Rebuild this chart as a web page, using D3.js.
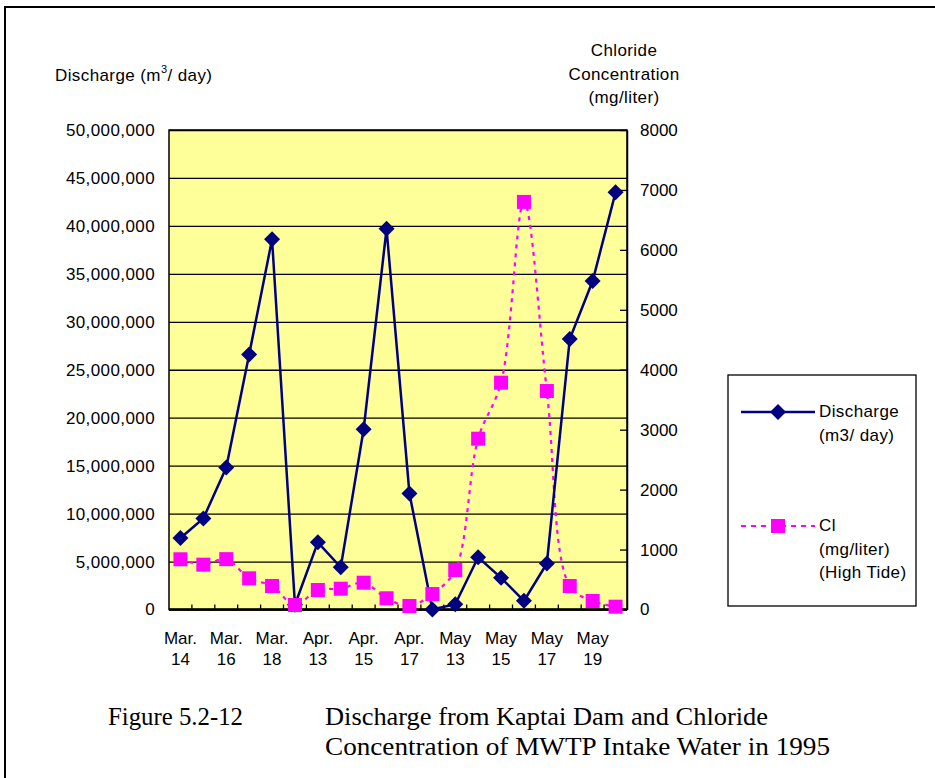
<!DOCTYPE html>
<html>
<head>
<meta charset="utf-8">
<script src="https://cdnjs.cloudflare.com/ajax/libs/d3/7.8.5/d3.min.js"></script>
<style>
  body { margin: 0; background: #fff; }
  svg text { font-family: "Liberation Sans", Arial, sans-serif; }
  .xl { letter-spacing: 0.4px; }
</style>
</head>
<body>
<svg width="935" height="778"></svg>
<script>
// categories (every other one gets a label, like the original sheet)
var dates = ["Mar.|14", "Mar.|15", "Mar.|16", "Mar.|17", "Mar.|18", "Mar.|19",
    "Apr.|13", "Apr.|14", "Apr.|15", "Apr.|16", "Apr.|17", "Apr.|18",
    "May|13", "May|14", "May|15", "May|16", "May|17", "May|18", "May|19", "May|20"];

// discharge in m3/day
var discharge = [7450000, 9500000, 14800000, 26600000, 38600000, 500000,
    7000000, 4400000, 18800000, 39700000, 12100000, 0,
    550000, 5450000, 3300000, 900000, 4800000, 28200000, 34250000, 43500000];

// chloride mg/liter (high tide)
var chloride = [838, 748, 840, 520, 392, 75,
    325, 347, 447, 187, 58, 258,
    659, 2850, 3784, 6800, 3645, 392, 142, 47];

var leftTicks = [0, 5e6, 10e6, 15e6, 20e6, 25e6, 30e6, 35e6, 40e6, 45e6, 50e6];
var rightTicks = [0, 1000, 2000, 3000, 4000, 5000, 6000, 7000, 8000];

var margin = {left: 169, top: 130, right: 308, bottom: 168.5};
var svgWidth = 935, svgHeight = 778;
var width = svgWidth - margin.left - margin.right;
var height = svgHeight - margin.top - margin.bottom;

var svg = d3.select("svg");

// outer frame (only top and left show in the picture)
svg.append("rect")
    .attr("x", 5).attr("y", 7)
    .attr("width", 1000).attr("height", 1000)
    .attr("fill", "none")
    .attr("stroke", "#000")
    .attr("stroke-width", 2);

var g = svg.append("g")
    .attr("transform", "translate(" + margin.left + "," + margin.top + ")");

var x = d3.scaleBand()
    .domain(d3.range(dates.length))
    .range([0, width]);

var yL = d3.scaleLinear().domain([0, 50e6]).range([height, 0]);
var yR = d3.scaleLinear().domain([0, 8000]).range([height, 0]);

g.append("rect")
    .attr("width", width)
    .attr("height", height)
    .attr("fill", "#FFFF99");

// gridlines
g.append("g")
    .call(d3.axisLeft(yL).tickValues(leftTicks).tickSize(-width).tickFormat(""))
    .call(function (s) {
        s.select(".domain").remove();
        s.selectAll("line").attr("stroke", "#000").attr("stroke-width", 1.3);
    });

// left labels
g.append("g")
    .call(d3.axisLeft(yL).tickValues(leftTicks).tickSize(0).tickPadding(14)
        .tickFormat(d3.format(",")))
    .call(function (s) {
        s.select(".domain").remove();
        s.selectAll("text").attr("font-size", 17).attr("fill", "#000")
            .attr("class", "xl")
            .attr("font-family", "Liberation Sans, Arial, sans-serif");
    });

// right axis, ticks inward
g.append("g")
    .attr("transform", "translate(" + width + ",0)")
    .call(d3.axisRight(yR).tickValues(rightTicks).tickSizeInner(-7).tickSizeOuter(0)
        .tickPadding(13).tickFormat(d3.format("d")))
    .call(function (s) {
        s.select(".domain").attr("stroke", "#000").attr("stroke-width", 1.5);
        s.selectAll("line").attr("stroke", "#000").attr("stroke-width", 1.3);
        s.selectAll("text").attr("font-size", 17).attr("fill", "#000")
            .attr("font-family", "Liberation Sans, Arial, sans-serif");
    });

// plot border
g.append("rect")
    .attr("width", width)
    .attr("height", height)
    .attr("fill", "none")
    .attr("stroke", "#000")
    .attr("stroke-width", 1.5);

// bottom axis ticks between categories, inward
var bounds = d3.range(1, dates.length).map(function (i) { return x(i); });
g.append("g").selectAll("line")
    .data(bounds)
    .enter()
    .append("line")
    .attr("x1", function (d) { return d; })
    .attr("x2", function (d) { return d; })
    .attr("y1", height)
    .attr("y2", height - 5)
    .attr("stroke", "#000")
    .attr("stroke-width", 1.3);

g.append("line")
    .attr("x1", 0).attr("x2", width)
    .attr("y1", height).attr("y2", height)
    .attr("stroke", "#000").attr("stroke-width", 2.5);

// x labels
var xl = g.append("g").selectAll("text")
    .data(dates.map(function (d, i) { return {d: d, i: i}; }).filter(function (o) { return o.i % 2 === 0; }))
    .enter()
    .append("text")
    .attr("text-anchor", "middle")
    .attr("font-size", 17)
    .attr("transform", function (o) {
        return "translate(" + (x(o.i) + x.bandwidth() / 2) + "," + (height + 34) + ")";
    });
xl.append("tspan").attr("x", 0).attr("y", 0)
    .text(function (o) { return o.d.split("|")[0]; });
xl.append("tspan").attr("x", 0).attr("y", 21)
    .text(function (o) { return o.d.split("|")[1]; });

var cx = function (d, i) { return x(i) + x.bandwidth() / 2; };

// chloride, smoothed dashed line
var clLine = d3.line()
    .x(cx)
    .y(function (d) { return yR(d); })
    .curve(d3.curveCatmullRom.alpha(0.5));

g.append("path")
    .datum(chloride)
    .attr("fill", "none")
    .attr("stroke", "#FF00FF")
    .attr("stroke-width", 2.2)
    .attr("stroke-dasharray", "4,5")
    .attr("d", clLine);

// discharge line
var dLine = d3.line()
    .x(cx)
    .y(function (d) { return yL(d); });

g.append("path")
    .datum(discharge)
    .attr("fill", "none")
    .attr("stroke", "#000080")
    .attr("stroke-width", 2.5)
    .attr("d", dLine);

var diamond = "M0,-8L8,0L0,8L-8,0Z";

g.selectAll(".dmark")
    .data(discharge)
    .enter()
    .append("path")
    .attr("class", "dmark")
    .attr("d", diamond)
    .attr("fill", "#000080")
    .attr("transform", function (d, i) { return "translate(" + cx(d, i) + "," + yL(d) + ")"; });

g.selectAll(".cmark")
    .data(chloride)
    .enter()
    .append("rect")
    .attr("class", "cmark")
    .attr("x", function (d, i) { return cx(d, i) - 7; })
    .attr("y", function (d) { return yR(d) - 7; })
    .attr("width", 14)
    .attr("height", 14)
    .attr("fill", "#FF00FF");

// axis titles
var lt = svg.append("text")
    .attr("x", 55).attr("y", 81)
    .attr("class", "xl")
    .attr("font-size", 17);
lt.append("tspan").text("Discharge (m");
lt.append("tspan").attr("dy", -8).attr("font-size", 11).text("3");
lt.append("tspan").attr("dy", 8).text("/ day)");

var rt = svg.append("text")
    .attr("text-anchor", "middle")
    .attr("class", "xl")
    .attr("font-size", 17);
["Chloride", "Concentration", "(mg/liter)"].forEach(function (t, i) {
    rt.append("tspan").attr("x", 624).attr("y", 56 + i * 23.5).text(t);
});

// legend
var lg = svg.append("g");
lg.append("rect")
    .attr("x", 728).attr("y", 375)
    .attr("width", 188).attr("height", 231)
    .attr("fill", "#fff")
    .attr("stroke", "#000")
    .attr("stroke-width", 1.3);

lg.append("line")
    .attr("x1", 741).attr("x2", 815)
    .attr("y1", 412).attr("y2", 412)
    .attr("stroke", "#000080").attr("stroke-width", 2.5);
lg.append("path").attr("d", diamond)
    .attr("fill", "#000080")
    .attr("transform", "translate(778,412)");

lg.append("line")
    .attr("x1", 741).attr("x2", 815)
    .attr("y1", 526).attr("y2", 526)
    .attr("stroke", "#FF00FF").attr("stroke-width", 2.2)
    .attr("stroke-dasharray", "5,5");
lg.append("rect")
    .attr("x", 771).attr("y", 519)
    .attr("width", 14).attr("height", 14)
    .attr("fill", "#FF00FF");

var legendText = [["Discharge", 417], ["(m3/ day)", 441], ["Cl", 531], ["(mg/liter)", 555], ["(High Tide)", 578]];
lg.selectAll(".lt")
    .data(legendText)
    .enter()
    .append("text")
    .attr("x", 819)
    .attr("y", function (d) { return d[1]; })
    .attr("class", "xl")
    .attr("font-size", 17)
    .text(function (d) { return d[0]; });

// caption
var capLines = [["Figure 5.2-12", 108, 725, 135],
    ["Discharge from Kaptai Dam and Chloride", 325, 725, 443],
    ["Concentration of MWTP Intake Water in 1995", 325, 755, 505]];
svg.append("g").selectAll("text")
    .data(capLines)
    .enter()
    .append("text")
    .style("font-family", "Liberation Serif, Times New Roman, serif")
    .attr("font-size", 25)
    .attr("x", function (d) { return d[1]; })
    .attr("y", function (d) { return d[2]; })
    .attr("textLength", function (d) { return d[3]; })
    .attr("lengthAdjust", "spacingAndGlyphs")
    .text(function (d) { return d[0]; });
</script>
</body>
</html>
